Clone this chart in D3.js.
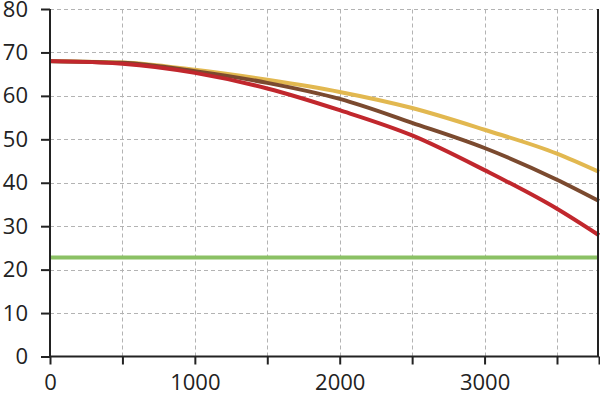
<!DOCTYPE html>
<html>
<head>
<meta charset="utf-8">
<script src="https://cdn.jsdelivr.net/npm/d3@7"></script>
<style>
  body { margin: 0; background: #fff; }
  svg text { font-family: "Open Sans", "Noto Sans", sans-serif; }
</style>
</head>
<body>
<div id="chart"></div>
<script>
// data
const xValues = [0, 500, 1000, 1500, 2000, 2500, 3000, 3500, 3790];
const yellowSeries = [68, 67.7, 66.0, 63.7, 60.9, 57.2, 52.2, 46.7, 42.5];
const brownSeries = [68, 67.6, 65.7, 63.0, 59.3, 53.8, 48.0, 40.7, 35.8];
const redSeries = [68, 67.4, 65.3, 61.7, 56.7, 50.9, 42.9, 34.0, 27.9];
const greenX = [0, 3790];
const greenSeries = [22.8, 22.8];
const xTicks = [0, 1000, 2000, 3000];
const xGrid = [500, 1000, 1500, 2000, 2500, 3000, 3500];
const yTicks = [0, 10, 20, 30, 40, 50, 60, 70, 80];

const width = 600, height = 398;
const margin = {top: 9, right: 1, bottom: 42, left: 50};

const svg = d3.select("#chart").append("svg")
  .attr("width", width)
  .attr("height", height);

const x = d3.scaleLinear().domain([0, 3790]).range([margin.left, width - margin.right]);
const y = d3.scaleLinear().domain([0, 80]).range([height - margin.bottom + 0.5, margin.top]);

// grid
const grid = svg.append("g")
  .attr("stroke", "#b3b3b3")
  .attr("stroke-width", 1)
  .attr("stroke-dasharray", "4,3");
grid.selectAll("line.h").data(yTicks.filter(d => d > 0)).join("line")
  .attr("x1", x(0)).attr("x2", x(3790))
  .attr("y1", d => Math.round(y(d)) + 0.5).attr("y2", d => Math.round(y(d)) + 0.5);
grid.selectAll("line.v").data(xGrid).join("line")
  .attr("y1", y(0)).attr("y2", y(80))
  .attr("x1", d => Math.round(x(d)) + 0.5).attr("x2", d => Math.round(x(d)) + 0.5);

// series
const line = d3.line().curve(d3.curveMonotoneX);
const series = [
  {vals: greenSeries, xs: greenX, color: "#8bc165"},
  {vals: yellowSeries, xs: xValues, color: "#e2b850"},
  {vals: brownSeries, xs: xValues, color: "#7b4a2f"},
  {vals: redSeries, xs: xValues, color: "#c1272d"}
];
svg.append("g").selectAll("path").data(series).join("path")
  .attr("fill", "none")
  .attr("stroke", d => d.color)
  .attr("stroke-width", 4)
  .attr("d", d => line(d.xs.map((xv, i) => [x(xv), y(d.vals[i])])));

// axes
const xAxis = svg.append("g")
  .attr("transform", `translate(0,${y(0)})`)
  .call(d3.axisBottom(x).tickValues(xGrid.concat([0, 3790])).tickSize(8).tickFormat(d => xTicks.includes(d) ? d : ""));
const yAxis = svg.append("g")
  .attr("transform", `translate(${x(0)},0)`)
  .call(d3.axisLeft(y).tickValues(yTicks).tickSize(9));

[xAxis, yAxis].forEach(a => {
  a.select(".domain").attr("stroke", "#222").attr("stroke-width", 2);
  a.selectAll(".tick line").attr("stroke", "#222").attr("stroke-width", 2);
  a.selectAll(".tick text").attr("fill", "#222").style("font-size", "22px");
});
xAxis.select(".domain").attr("d", `M${x(0)},0H${x(3790)}`);
yAxis.select(".domain").attr("d", `M0,${y(0)}V${y(80)}`);
xAxis.selectAll(".tick text").attr("dy", "0.71em").attr("y", 18);
yAxis.selectAll(".tick text").attr("x", -22);

// right border
svg.append("line")
  .attr("x1", x(3790) - 1).attr("x2", x(3790) - 1)
  .attr("y1", y(80)).attr("y2", y(0))
  .attr("stroke", "#222").attr("stroke-width", 2);
</script>
</body>
</html>
